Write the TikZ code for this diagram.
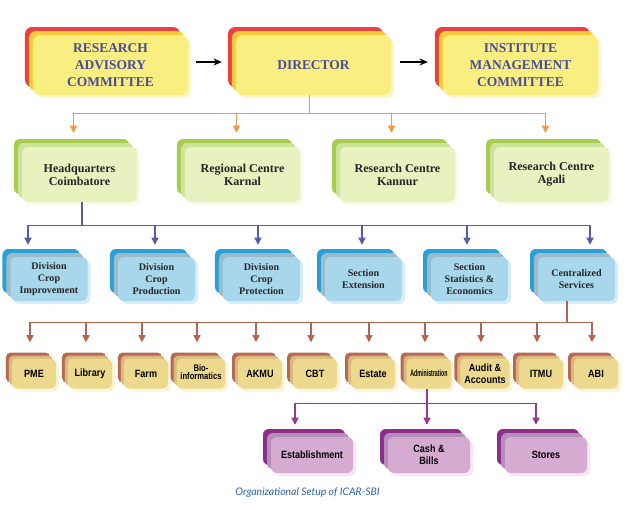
\documentclass[tikz,border=0pt]{standalone}
\usepackage{fontspec}
\setmainfont{Liberation Serif}
\newfontfamily\narrowsf[FakeStretch=0.86]{Liberation Sans}
\newfontfamily\capfont{Lato}
\usetikzlibrary{arrows.meta,calc,shadows}

\definecolor{topback}{HTML}{E8413F}
\definecolor{topmid}{HTML}{FDCA3C}
\definecolor{topfront}{HTML}{F9EF80}
\definecolor{topshd}{HTML}{FBF6C9}
\definecolor{toptext}{HTML}{4B4A9C}
\definecolor{grnback}{HTML}{A6CD4C}
\definecolor{grnmid}{HTML}{CDE29B}
\definecolor{grnfront}{HTML}{E8F1C0}
\definecolor{grnshd}{HTML}{F9FBE8}
\definecolor{bluback}{HTML}{2AA0D9}
\definecolor{blumid}{HTML}{9DBCCB}
\definecolor{blufront}{HTML}{A8D6EB}
\definecolor{blushd}{HTML}{D5EEFA}
\definecolor{tanback}{HTML}{B46B53}
\definecolor{tanmid}{HTML}{DDB67E}
\definecolor{tanfront}{HTML}{EDD98D}
\definecolor{tanshd}{HTML}{FBF4D8}
\definecolor{purback}{HTML}{8E2E87}
\definecolor{purmid}{HTML}{B48DB9}
\definecolor{purfront}{HTML}{D5ABD2}
\definecolor{purshd}{HTML}{F9E5F5}
\definecolor{orgline}{HTML}{F39A4A}
\definecolor{bluline}{HTML}{5A5BA8}
\definecolor{brnline}{HTML}{B5654F}
\definecolor{purline}{HTML}{943B8E}
\definecolor{captext}{HTML}{2F5FB6}

\tikzset{
  layered/.style n args={5}{fill=#3,
    general shadow={fill=#4, shadow xshift=0.09cm, shadow yshift=-0.09cm},
    general shadow={fill=#1, shadow xshift=-2*#5, shadow yshift=2*#5},
    general shadow={fill=#2, shadow xshift=-#5, shadow yshift=#5}},
  topbox/.style={layered={topback}{topmid}{topfront}{topshd}{0.12cm},
    rounded corners=6pt, minimum width=4.65cm, minimum height=1.8cm,
    align=center, text=toptext, font={\fontsize{11.5}{14.5}\selectfont\bfseries}},
  centrebox/.style={layered={grnback}{grnmid}{grnfront}{grnshd}{0.12cm},
    rounded corners=5pt, minimum width=3.45cm, minimum height=1.65cm,
    align=center, text=black!85, font={\fontsize{10.3}{11}\selectfont\bfseries}},
  divbox/.style={layered={bluback}{blumid}{blufront}{blushd}{0.12cm},
    rounded corners=5pt, minimum width=2.31cm, minimum height=1.32cm,
    align=center, text=black!85, font={\fontsize{8.6}{10.6}\selectfont\bfseries}},
  unitbox/.style={layered={tanback}{tanmid}{tanfront}{tanshd}{0.09cm},
    rounded corners=4pt, minimum width=1.32cm, minimum height=0.9cm,
    align=center, font={\narrowsf\bfseries\fontsize{9}{10}\selectfont}},
  adminbox/.style={layered={purback}{purmid}{purfront}{purshd}{0.12cm},
    rounded corners=5pt, minimum width=2.46cm, minimum height=1.08cm,
    align=center, font={\narrowsf\bfseries\fontsize{9}{10.5}\selectfont}},
  orgarrow/.style={draw=orgline, line width=1.1pt, -{Triangle[length=6pt,width=6pt]}},
  bluarrow/.style={draw=bluline, line width=1.1pt, -{Triangle[length=6pt,width=6pt]}},
  brnarrow/.style={draw=brnline, line width=1.1pt, -{Triangle[length=6pt,width=6pt]}},
  purarrow/.style={draw=purline, line width=1.1pt, -{Triangle[length=6pt,width=6pt]}},
}

\begin{document}
\begin{tikzpicture}[x=0.03cm, y=-0.03cm]
    \useasboundingbox[fill=white] (0,0) rectangle (635,518);

    % top level
    \node[topbox] (rac) at (110.5,65) {RESEARCH\\ADVISORY\\COMMITTEE};
    \node[topbox] (dir) at (313.5,65) {DIRECTOR};
    \node[topbox] (imc) at (520.5,65) {INSTITUTE\\MANAGEMENT\\COMMITTEE};

    \draw[-{Stealth[length=7pt,width=6pt]}, line width=0.9pt] ($(rac.east)+(8,-3)$) -- ($(dir.west)+(-14,-3)$);
    \draw[-{Stealth[length=7pt,width=6pt]}, line width=0.9pt] ($(dir.east)+(9,-3)$) -- ($(imc.west)+(-15,-3)$);

    % centres
    \node[centrebox] (hq)  at (79.5,174.5)  {Headquarters\\Coimbatore};
    \node[centrebox] (rck) at (242.5,174.5) {Regional Centre\\Karnal};
    \node[centrebox] (rcn) at (397.5,174.5) {Research Centre\\Kannur};
    \node[centrebox] (rca) at (551.5,174.5) {Research Centre\\Agali};

    \draw[draw=orgline, line width=1.1pt] ($(dir.south)+(-4,0)$) -- ++(0,18) coordinate (ob);
    \foreach \n in {hq,rck,rcn,rca}
        \draw[orgarrow] (ob) -| ($(\n.north)+(-6,-14)$);

    % divisions
    \node[divbox] (dci) at (49,279)    {Division\\Crop\\Improvement};
    \node[divbox] (dcp) at (156.5,279) {Division\\Crop\\Production};
    \node[divbox] (dpr) at (261.5,279) {Division\\Crop\\Protection};
    \node[divbox] (sex) at (363.5,279) {Section\\Extension};
    \node[divbox] (sse) at (469.5,279) {Section\\Statistics \&\\Economics};
    \node[divbox] (csv) at (576.5,279) {Centralized\\Services};

    \draw[draw=bluline, line width=1.1pt] ($(hq.south)+(2.5,0)$) -- ++(0,23) coordinate (bb);
    \foreach \n/\dx in {dci/-21,dcp/-1.5,dpr/-3.5,sex/-1.5,sse/-2.5,csv/13.5}
        \draw[bluarrow] (bb) -| ($(\n.north)+(\dx,-12)$);

    % units
    \node[unitbox] (pme)  at (34,373.5)  {PME};
    \node[unitbox] (lib)  at (90,373.5)  {Library};
    \node[unitbox] (farm) at (146,373.5) {Farm};
    \node[unitbox] (bioi) at (201,373.5) {\scalebox{0.84}[0.9]{\begin{tabular}{@{}c@{}}Bio-\\[-2pt]informatics\end{tabular}}};
    \node[unitbox] (akmu) at (260,373.5) {AKMU};
    \node[unitbox] (cbt)  at (315,373.5) {CBT};
    \node[unitbox] (est)  at (373,373.5) {Estate};
    \node[unitbox] (adm)  at (429,373.5) {\scalebox{0.58}[0.88]{Administration}};
    \node[unitbox] (aud)  at (485,373.5) {Audit \&\\Accounts};
    \node[unitbox] (itmu) at (541,373.5) {ITMU};
    \node[unitbox] (abi)  at (596,373.5) {ABI};

    \draw[draw=brnline, line width=1.1pt] ($(csv.south)+(-9.5,0)$) -- ++(0,21) coordinate (rb);
    \foreach \n in {pme,lib,farm,bioi,akmu,cbt,est,adm,aud,itmu,abi}
        \draw[brnarrow] (rb) -| ($(\n.north)+(-4,-16)$);

    % administration
    \node[adminbox] (estb) at (312,455) {Establishment};
    \node[adminbox] (cab)  at (429,455) {Cash \&\\Bills};
    \node[adminbox] (sto)  at (546,455) {Stores};

    \draw[draw=purline, line width=1.1pt] ($(adm.south)+(-2,0)$) -- ++(0,15) coordinate (pb);
    \foreach \n/\dx in {estb/-17,cab/-2,sto/-10}
        \draw[purarrow] (pb) -| ($(\n.north)+(\dx,-12)$);

    \node[text=captext, font={\capfont\itshape\fontsize{8.9}{10}\selectfont}] (cap) at (307.5,493) {Organizational Setup of ICAR-SBI};
\end{tikzpicture}
\end{document}
